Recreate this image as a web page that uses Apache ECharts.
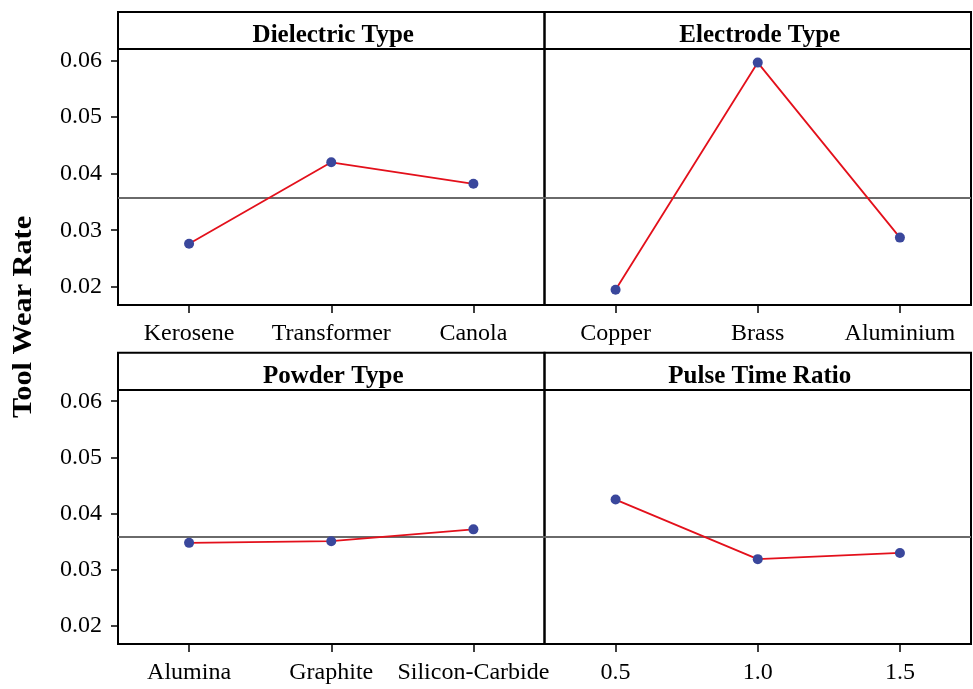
<!DOCTYPE html>
<html>
<head>
<meta charset="utf-8">
<script src="https://cdn.jsdelivr.net/npm/echarts@6/dist/echarts.min.js"></script>
<style>
  html, body { margin: 0; padding: 0; background: #fff; }
  #chart { width: 973px; height: 689px; }
</style>
</head>
<body>
<div id="chart"></div>
<script>
// Main effects of each factor on tool wear rate
const dielectricLevels = ['Kerosene', 'Transformer', 'Canola'];
const dielectricTWR = [0.0276, 0.0420, 0.0382];

const electrodeLevels = ['Copper', 'Brass', 'Aluminium'];
const electrodeTWR = [0.0195, 0.0596, 0.0287];

const powderLevels = ['Alumina', 'Graphite', 'Silicon-Carbide'];
const powderTWR = [0.0348, 0.0351, 0.0372];

const pulseLevels = ['0.5', '1.0', '1.5'];
const pulseTWR = [0.0425, 0.0319, 0.0330];

const grandMean = 0.0358;
const yTickValues = [0.02, 0.03, 0.04, 0.05, 0.06];
const yMin = 0.0168, yMax = 0.0620;

const panelTitles = ['Dielectric Type', 'Electrode Type', 'Powder Type', 'Pulse Time Ratio'];

const FONT = '"Liberation Serif", "Times New Roman", serif';

// panel geometry
const colX = [118, 544.5];
const colW = 426.5;
const headerTop = [12, 352.7];
const plotTop = [49, 390];
const plotH = [256, 254];

const panels = [
  { cats: dielectricLevels, vals: dielectricTWR, row: 0, col: 0 },
  { cats: electrodeLevels, vals: electrodeTWR, row: 0, col: 1 },
  { cats: powderLevels, vals: powderTWR, row: 1, col: 0 },
  { cats: pulseLevels, vals: pulseTWR, row: 1, col: 1 }
];

const grids = [], xAxes = [], yAxes = [], series = [], titles = [], graphics = [];

panels.forEach((p, i) => {
  grids.push({
    left: colX[p.col], top: plotTop[p.row], width: colW, height: plotH[p.row],
    show: true, borderColor: '#000', borderWidth: 2, backgroundColor: 'transparent'
  });
  xAxes.push({
    type: 'category', gridIndex: i, data: p.cats, boundaryGap: true,
    axisLine: { show: false },
    axisTick: { show: true, alignWithLabel: true, length: 8, lineStyle: { color: '#000', width: 1.5 } },
    axisLabel: { color: '#000', fontFamily: FONT, fontSize: 24, margin: 17, interval: 0 },
    splitLine: { show: false }
  });
  const left = p.col === 0;
  yAxes.push({
    type: 'value', gridIndex: i, min: yMin, max: yMax,
    axisLine: { show: false },
    axisTick: { show: left, length: 7, customValues: yTickValues, lineStyle: { color: '#000', width: 1.5 } },
    axisLabel: {
      show: left, customValues: yTickValues, color: '#000', fontFamily: FONT, fontSize: 24, margin: 16,
      formatter: v => v.toFixed(2)
    },
    splitLine: { show: false }
  });
  series.push({
    type: 'line', xAxisIndex: i, yAxisIndex: i, data: p.vals,
    symbol: 'circle', symbolSize: 10,
    itemStyle: { color: '#3a479c' },
    lineStyle: { color: '#e3101b', width: 1.8 },
    z: 3,
    markLine: {
      silent: true, symbol: 'none', precision: 4, label: { show: false },
      lineStyle: { color: '#6a6a6a', width: 1.8, type: 'solid' },
      data: [{ yAxis: grandMean }],
      z: 2
    }
  });
  // header strip
  graphics.push({
    type: 'rect',
    shape: { x: colX[p.col], y: headerTop[p.row], width: colW, height: plotTop[p.row] - headerTop[p.row] },
    style: { fill: 'none', stroke: '#000', lineWidth: 2 }
  });
  titles.push({
    text: panelTitles[i],
    left: colX[p.col] + colW / 2 - 3,
    top: (headerTop[p.row] + plotTop[p.row]) / 2,
    textAlign: 'center', textVerticalAlign: 'middle',
    textStyle: { fontFamily: FONT, fontWeight: 'bold', fontSize: 25, color: '#000' }
  });
});

// shared vertical axis title
graphics.push({
  type: 'text',
  x: 24, y: 317, rotation: Math.PI / 2, scaleX: 1.12,
  style: {
    text: 'Tool Wear Rate', fill: '#000',
    font: 'bold 27px ' + FONT,
    textAlign: 'center', textVerticalAlign: 'middle'
  }
});

const chart = echarts.init(document.getElementById('chart'), null, { renderer: 'canvas' });
chart.setOption({
  animation: false,
  backgroundColor: '#fff',
  title: titles,
  grid: grids,
  xAxis: xAxes,
  yAxis: yAxes,
  series: series,
  graphic: graphics
});
</script>
</body>
</html>
